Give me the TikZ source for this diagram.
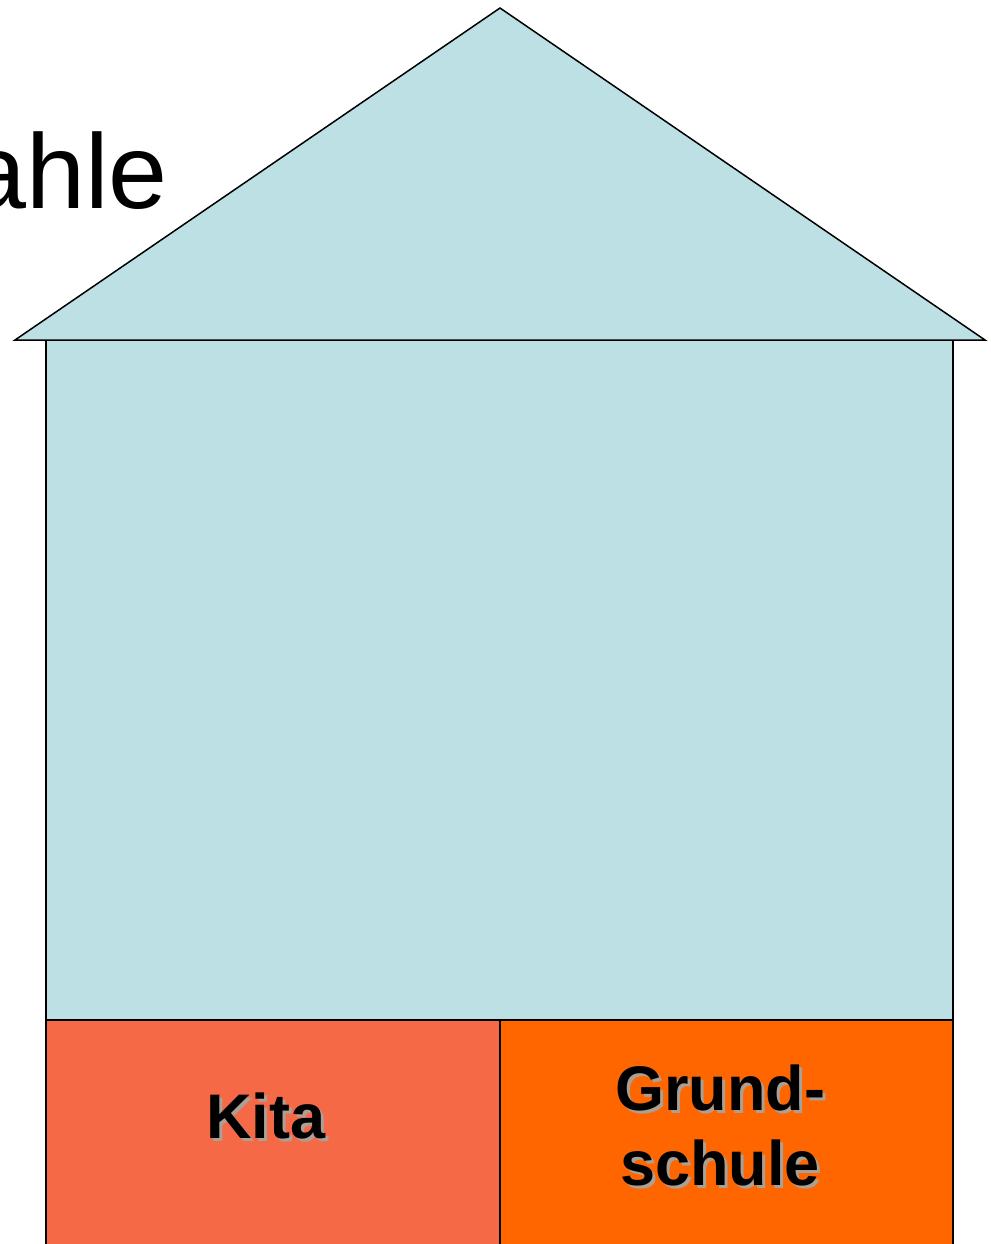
\documentclass[tikz,border=0pt]{standalone}
\usepackage{fontspec}
\setmainfont{Liberation Sans}
\definecolor{houseblue}{RGB}{188,224,227}
\definecolor{kitaorange}{RGB}{245,105,70}
\definecolor{grundorange}{RGB}{255,102,0}
\definecolor{shadowgray}{RGB}{170,160,150}
\tikzset{
  wall/.style={draw=black, line width=1.5pt},
  labeltext/.style={inner sep=0pt, anchor=base, font=\bfseries\fontsize{63}{75}\selectfont},
  labelshadow/.style={labeltext, text=shadowgray},
}
\begin{document}
\begin{tikzpicture}[x=1pt,y=-1pt]
\useasboundingbox (0,0) rectangle (990,1244);
\clip (0,0) rectangle (990,1244);
% title fragment
\node[inner sep=0pt, anchor=base east, font=\fontsize{106}{120}\selectfont] (title) at (168,208) {ahle};
% body
\fill[houseblue] (46,340) rectangle (953,1020);
\draw[wall] (46,1260) -- (46,340) (953,340) -- (953,1260);
\filldraw[wall, fill=kitaorange] (46,1020) rectangle (500,1270);
\filldraw[wall, fill=grundorange] (500,1020) rectangle (953,1270);
% roof
\filldraw[wall, fill=houseblue, line join=miter] (15,340) -- (500,8) -- (985,340) -- cycle;
% labels with shadows
\node[labelshadow] (kitas) at (269,1141) {Kita};
\node[labeltext] (kita) at (266,1138) {Kita};
\node[labelshadow] (grundas) at (723,1113) {Grund-};
\node[labeltext] (grunda) at (720,1110) {Grund-};
\node[labelshadow] (grundbs) at (723,1188) {schule};
\node[labeltext] (grundb) at (720,1185) {schule};
\end{tikzpicture}
\end{document}
